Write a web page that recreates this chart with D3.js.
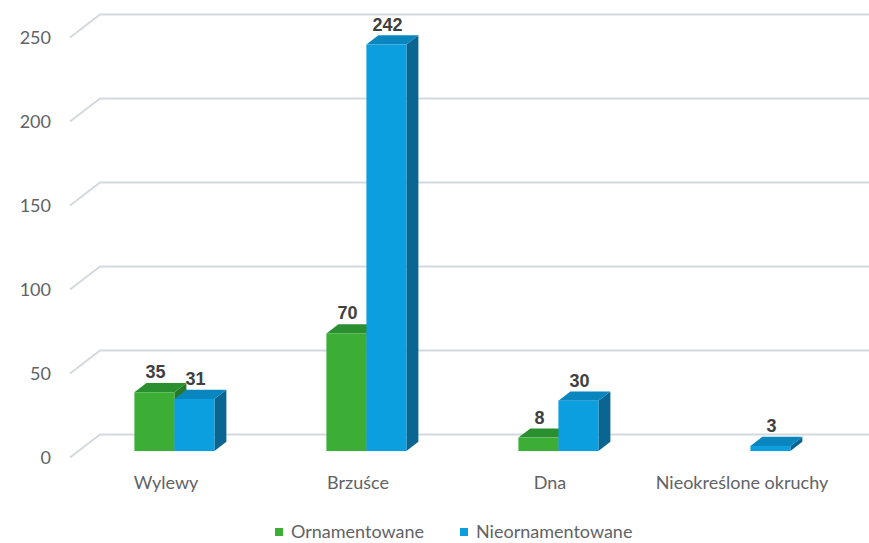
<!DOCTYPE html>
<html><head><meta charset="utf-8">
<script src="https://cdn.jsdelivr.net/npm/d3@7"></script>
<style>html,body{margin:0;padding:0;background:#fff;}svg{display:block;}</style>
</head><body>
<svg id="chart" width="869" height="543"></svg>
<script>
const categories = ["Wylewy", "Brzuśce", "Dna", "Nieokreślone okruchy"];
const seriesNames = ["Ornamentowane", "Nieornamentowane"];
const ornamentowane = [35, 70, 8, null];
const nieornamentowane = [31, 242, 30, 3];
const yTicks = [0, 50, 100, 150, 200, 250];

const colors = [
  {front: "#3dae35", top: "#2a8f2e", side: "#257a28"},
  {front: "#0b9fe0", top: "#0a86bf", side: "#0a6690"}
];
const font = "Lato, 'Liberation Sans', Arial, sans-serif";

const svg = d3.select("#chart");
// front plane origin, depth vector
const frontX0 = 70, frontY0 = 457.5;
const D = [30, -23];
const y = d3.scaleLinear().domain([0, 250]).range([0, 420]); // height in px
const x = d3.scaleBand().domain(categories).range([frontX0, frontX0 + 4 * 192]).paddingInner(0).paddingOuter(0);
const xs = d3.scaleBand().domain([0, 1]).range([0, 80]);

// gridlines
const grid = svg.append("g");
yTicks.forEach(t => {
  const fy = frontY0 - y(t);
  grid.append("path")
    .attr("d", `M${frontX0},${fy} L${frontX0 + D[0]},${fy + D[1]} L${frontX0 + D[0] + 4 * 192 + 2},${fy + D[1]}`)
    .attr("fill", "none").attr("stroke", "#d3d9de").attr("stroke-width", 2);
  grid.append("text").attr("x", 51).attr("y", fy).attr("dy", "0.36em")
    .attr("text-anchor", "end").attr("font-family", font).attr("font-size", 18)
    .attr("fill", "#5f6366").text(t);
});

// bars
const f0 = 0.28, f1 = 0.68;
const bars = svg.append("g");
const data = [ornamentowane, nieornamentowane];
categories.forEach((c, i) => {
  [0, 1].forEach(s => {
    const v = data[s][i];
    if (v == null) return;
    const x0 = x(c) + (x.bandwidth() - 80) / 2 + xs(s) + D[0] * f0;
    const x1 = x0 + xs.bandwidth();
    const yb = frontY0 + D[1] * f0;
    const yt = yb - y(v);
    const dx = D[0] * (f1 - f0), dy = D[1] * (f1 - f0);
    const col = colors[s];
    // side
    bars.append("path").attr("d", `M${x1},${yb} L${x1 + dx},${yb + dy} L${x1 + dx},${yt + dy} L${x1},${yt} Z`).attr("fill", col.side);
    // top
    bars.append("path").attr("d", `M${x0},${yt} L${x0 + dx},${yt + dy} L${x1 + dx},${yt + dy} L${x1},${yt} Z`).attr("fill", col.top);
    // front
    bars.append("rect").attr("x", x0).attr("y", yt).attr("width", x1 - x0).attr("height", yb - yt).attr("fill", col.front);
  });
});
// value labels
categories.forEach((c, i) => {
  [0, 1].forEach(s => {
    const v = data[s][i];
    if (v == null) return;
    const x0 = x(c) + (x.bandwidth() - 80) / 2 + xs(s) + D[0] * f0;
    const yb = frontY0 + D[1] * f0;
    const yt = yb - y(v);
    svg.append("text").attr("x", x0 + xs.bandwidth() / 2 + 1).attr("y", yt - 14)
      .attr("text-anchor", "middle").attr("font-family", "'Liberation Sans', Arial, sans-serif")
      .attr("font-weight", "bold").attr("font-size", 18).attr("fill", "#404040").text(v);
  });
});

// category labels
categories.forEach(c => {
  svg.append("text").attr("x", x(c) + x.bandwidth() / 2).attr("y", 489)
    .attr("text-anchor", "middle").attr("font-family", font).attr("font-size", 18)
    .attr("fill", "#5f6366").text(c);
});

// legend
const legend = [{x: 275, name: seriesNames[0], col: colors[0].front}, {x: 460, name: seriesNames[1], col: colors[1].front}];
legend.forEach(l => {
  svg.append("rect").attr("x", l.x).attr("y", 528).attr("width", 8).attr("height", 8).attr("fill", l.col);
  svg.append("text").attr("x", l.x + 16).attr("y", 532).attr("dy", "0.36em")
    .attr("font-family", font).attr("font-size", 18).attr("fill", "#5f6366").text(l.name);
});
</script>
</body></html>
